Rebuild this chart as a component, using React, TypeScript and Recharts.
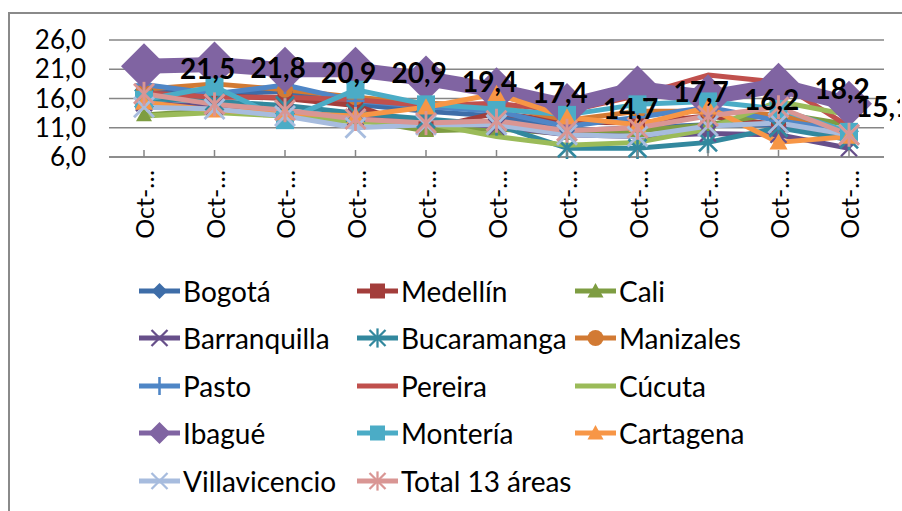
import { LineChart, Line, XAxis, YAxis, CartesianGrid, Legend, LabelList } from 'recharts';

const periods = ['Oct-…', 'Oct-…', 'Oct-…', 'Oct-…', 'Oct-…', 'Oct-…', 'Oct-…', 'Oct-…', 'Oct-…', 'Oct-…', 'Oct-…'];
const yTicks = [6, 11, 16, 21, 26];

const bogota = [17.5, 16.8, 17.2, 15.0, 13.8, 13.0, 10.5, 11.0, 11.5, 11.5, 9.0];
const medellin = [16.8, 16.5, 16.0, 14.8, 10.8, 13.5, 12.0, 11.8, 13.0, 11.5, 9.8];
const cali = [13.2, 14.0, 13.5, 12.5, 10.5, 10.8, 10.0, 10.5, 11.5, 13.5, 11.5];
const barranquilla = [15.2, 14.6, 13.8, 12.8, 12.2, 11.2, 9.8, 9.5, 10.0, 9.8, 7.5];
const bucaramanga = [16.0, 15.5, 14.8, 13.5, 12.5, 11.5, 7.5, 7.5, 8.5, 11.0, 9.0];
const manizales = [17.6, 18.5, 17.5, 16.2, 15.2, 14.8, 12.3, 13.8, 13.8, 13.2, 10.2];
const pasto = [18.4, 16.8, 18.3, 15.6, 14.6, 13.8, 11.2, 12.8, 14.5, 12.2, 10.5];
const pereira = [17.0, 16.2, 16.2, 15.8, 14.8, 15.2, 13.8, 16.5, 20.0, 18.8, 11.2];
const cucuta = [13.0, 13.6, 13.0, 12.0, 11.8, 9.5, 8.0, 8.5, 10.8, 15.5, 13.2];
const ibague = [21.5, 21.8, 20.9, 20.9, 19.4, 17.4, 14.7, 17.7, 16.2, 18.2, 15.1];
const monteria = [15.8, 18.0, 12.3, 17.5, 15.0, 14.2, 13.2, 15.0, 15.5, 14.2, 10.3];
const cartagena = [15.3, 14.0, 13.5, 13.0, 14.5, 16.8, 12.8, 11.5, 14.5, 8.5, 9.5];
const villavicencio = [14.5, 14.2, 13.0, 11.0, 11.5, 11.5, 9.8, 9.5, 11.3, 11.8, 9.8];
const total13 = [16.8, 15.0, 14.0, 12.5, 11.8, 12.2, 10.5, 11.0, 13.0, 14.5, 9.8];

type Shape = 'diamond' | 'square' | 'triangle' | 'x' | 'star' | 'circle' | 'plus' | 'none';

interface Serie {
  key: string;
  name: string;
  values: number[];
  color: string;
  shape: Shape;
  size: number;
  legendSize: number;
  width: number;
}

const series: Serie[] = [
  { key: 'bogota', name: 'Bogotá', values: bogota, color: '#3E6DA8', shape: 'diamond', size: 16, legendSize: 16, width: 5 },
  { key: 'medellin', name: 'Medellín', values: medellin, color: '#A33D3B', shape: 'square', size: 15, legendSize: 15, width: 5 },
  { key: 'cali', name: 'Cali', values: cali, color: '#7E9D42', shape: 'triangle', size: 16, legendSize: 16, width: 5 },
  { key: 'barranquilla', name: 'Barranquilla', values: barranquilla, color: '#674F8A', shape: 'x', size: 16, legendSize: 16, width: 5 },
  { key: 'bucaramanga', name: 'Bucaramanga', values: bucaramanga, color: '#32889E', shape: 'star', size: 18, legendSize: 16, width: 5 },
  { key: 'manizales', name: 'Manizales', values: manizales, color: '#D27A33', shape: 'circle', size: 16, legendSize: 16, width: 5 },
  { key: 'pasto', name: 'Pasto', values: pasto, color: '#4F86C6', shape: 'plus', size: 18, legendSize: 18, width: 5 },
  { key: 'pereira', name: 'Pereira', values: pereira, color: '#C0504D', shape: 'none', size: 0, legendSize: 0, width: 5 },
  { key: 'cucuta', name: 'Cúcuta', values: cucuta, color: '#9BBB59', shape: 'none', size: 0, legendSize: 0, width: 5 },
  { key: 'ibague', name: 'Ibagué', values: ibague, color: '#8064A2', shape: 'diamond', size: 46, legendSize: 22, width: 15 },
  { key: 'monteria', name: 'Montería', values: monteria, color: '#4BACC6', shape: 'square', size: 18, legendSize: 15, width: 5 },
  { key: 'cartagena', name: 'Cartagena', values: cartagena, color: '#F79646', shape: 'triangle', size: 18, legendSize: 16, width: 5 },
  { key: 'villavicencio', name: 'Villavicencio', values: villavicencio, color: '#A7BCDE', shape: 'x', size: 20, legendSize: 16, width: 5 },
  { key: 'total13', name: 'Total 13 áreas', values: total13, color: '#D99694', shape: 'star', size: 20, legendSize: 16, width: 5 },
];

const data = periods.map((p, i) => {
  const row: Record<string, number | string> = { n: i, period: p };
  series.forEach(s => { row[s.key] = s.values[i]; });
  return row;
});

const fmt = (v: number) => v.toFixed(1).replace('.', ',');

function marker(shape: Shape, cx: number, cy: number, size: number, color: string, key?: string) {
  const r = size / 2;
  const sw = Math.max(2, size / 7);
  switch (shape) {
    case 'diamond':
      return <polygon key={key} points={`${cx},${cy - r} ${cx + r},${cy} ${cx},${cy + r} ${cx - r},${cy}`} fill={color} />;
    case 'square':
      return <rect key={key} x={cx - r} y={cy - r} width={size} height={size} fill={color} />;
    case 'triangle':
      return <polygon key={key} points={`${cx},${cy - r} ${cx + r},${cy + r * 0.8} ${cx - r},${cy + r * 0.8}`} fill={color} />;
    case 'circle':
      return <circle key={key} cx={cx} cy={cy} r={r} fill={color} />;
    case 'x':
      return (
        <g key={key} stroke={color} strokeWidth={sw}>
          <line x1={cx - r} y1={cy - r} x2={cx + r} y2={cy + r} />
          <line x1={cx - r} y1={cy + r} x2={cx + r} y2={cy - r} />
        </g>
      );
    case 'star':
      return (
        <g key={key} stroke={color} strokeWidth={sw}>
          <line x1={cx - r} y1={cy - r} x2={cx + r} y2={cy + r} />
          <line x1={cx - r} y1={cy + r} x2={cx + r} y2={cy - r} />
          <line x1={cx} y1={cy - r * 1.2} x2={cx} y2={cy + r * 1.2} />
        </g>
      );
    case 'plus':
      return (
        <g key={key} stroke={color} strokeWidth={sw}>
          <line x1={cx - r} y1={cy} x2={cx + r} y2={cy} />
          <line x1={cx} y1={cy - r} x2={cx} y2={cy + r} />
        </g>
      );
    default:
      return <g key={key} />;
  }
}

function PeriodTick(props: any) {
  const { x, y, payload } = props;
  const ty = y + 13;
  return (
    <g>
      <line x1={x} y1={y} x2={x} y2={y - 7} stroke="#868686" strokeWidth={1.5} />
      <text x={x} y={ty} transform={`rotate(-90 ${x} ${ty})`} textAnchor="end" dominantBaseline="central" fontSize={25} fill="#000">
        {periods[payload.value]}
      </text>
    </g>
  );
}

function IbagueLabel(props: any) {
  const { x, y, value, index } = props;
  const last = index === ibague.length - 1;
  return (
    <text x={x + (last ? 7 : 36)} y={y + 2} textAnchor="start" dominantBaseline="central" fontSize={28} fontWeight="bold" fill="#000">
      {fmt(value)}
    </text>
  );
}

function ChartLegend() {
  return (
    <div style={{ display: 'grid', gridTemplateColumns: '218px 218px 218px', gridAutoRows: '47.5px', paddingLeft: 129, height: 238, boxSizing: 'border-box' }}>
      {series.map(s => (
        <div key={s.key} style={{ display: 'flex', alignItems: 'center', fontSize: 28, color: '#000', whiteSpace: 'nowrap' }}>
          <svg width={41} height={24} style={{ marginRight: 3, flexShrink: 0 }}>
            <line x1={0} y1={12} x2={41} y2={12} stroke={s.color} strokeWidth={5} />
            {s.shape !== 'none' && marker(s.shape, 20.5, 12, s.legendSize, s.color)}
          </svg>
          <span>{s.name}</span>
        </div>
      ))}
    </div>
  );
}

export default function App() {
  return (
    <div
      style={{
        position: 'fixed',
        left: 8,
        top: 12,
        width: 902,
        height: 520,
        borderLeft: '2px solid #8a8a8a',
        borderTop: '2px solid #8a8a8a',
        background: '#fff',
        fontFamily: 'Lato, "Open Sans", sans-serif',
        overflow: 'hidden',
      }}
    >
      <LineChart width={890} height={497} data={data} margin={{ top: 26, right: 16, left: 0, bottom: 6 }}>
        <CartesianGrid vertical={false} stroke="#868686" strokeWidth={1.5} />
        <XAxis
          dataKey="n"
          type="category"
          interval={0}
          height={110}
          padding={{ left: 35, right: 35 }}
          tickSize={0}
          tickMargin={0}
          tickLine={false}
          axisLine={{ stroke: '#868686', strokeWidth: 1.5 }}
          tick={<PeriodTick />}
        />
        <YAxis
          domain={[6, 26]}
          ticks={yTicks}
          interval={0}
          width={99}
          axisLine={false}
          tickLine={false}
          tickSize={0}
          tickMargin={23}
          tickFormatter={fmt}
          tick={{ fontSize: 26, fill: '#000' }}
        />
        <Legend verticalAlign="bottom" wrapperStyle={{ left: 0, width: 890 }} content={() => <ChartLegend />} />
        {series.map(s => (
          <Line
            key={s.key}
            dataKey={s.key}
            name={s.name}
            type="linear"
            stroke={s.color}
            strokeWidth={s.width}
            strokeLinejoin="round"
            isAnimationActive={false}
            activeDot={false}
            dot={s.shape === 'none' ? false : (p: any) => marker(s.shape, p.cx, p.cy, s.size, s.color, `${s.key}-${p.index}`)}
          />
        ))}
        <Line dataKey="ibague" stroke="none" dot={false} activeDot={false} legendType="none" isAnimationActive={false}>
          <LabelList dataKey="ibague" content={<IbagueLabel />} />
        </Line>
      </LineChart>
    </div>
  );
}
